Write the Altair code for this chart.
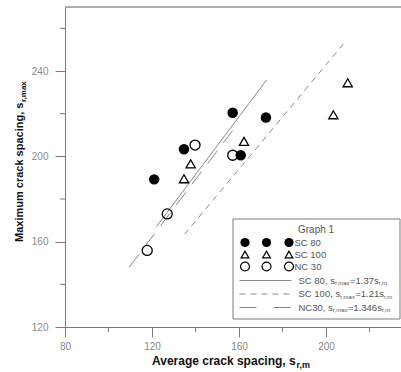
import altair as alt
import pandas as pd

# ---------------- data ----------------
sc80_x = [121.0, 134.7, 157.1, 160.8, 172.4]
sc80_y = [189.2, 203.3, 220.4, 200.5, 218.2]

sc100_x = [134.7, 137.8, 162.3, 203.4, 210.0]
sc100_y = [189.5, 196.5, 207.0, 219.5, 234.5]

nc30_x = [117.8, 127.0, 139.8, 157.1]
nc30_y = [155.9, 173.0, 205.3, 200.5]

# fitted lines (end points)
fit_sc80_x = [122.0, 172.7]
fit_sc80_y = [167.0, 235.8]
fit_sc100_x = [135.0, 209.5]
fit_sc100_y = [163.5, 254.5]
fit_nc30_x = [109.5, 157.0]
fit_nc30_y = [148.0, 212.0]

x_major = [80, 120, 160, 200]
x_minor = [100, 140, 180, 220]
y_major = [120, 160, 200, 240]
y_minor = [140, 180, 220, 260]

# ---------------- layout ----------------
W, H = 336, 320
FONT = "Liberation Sans"
GRAY = "#7a7a7a"

xs = alt.Scale(domain=[80, 234.5], nice=False, zero=False)
ys = alt.Scale(domain=[120, 270], nice=False, zero=False)

xaxis = alt.Axis(values=x_major, tickSize=10, labelPadding=4, domainColor=GRAY,
                 tickColor=GRAY, labelColor="#888888", labelFontSize=10, labelFont=FONT,
                 title=None, grid=False, labelFlush=False)
yaxis = alt.Axis(values=y_major, tickSize=10, labelPadding=7, domainColor=GRAY,
                 tickColor=GRAY, labelColor="#888888", labelFontSize=10, labelFont=FONT,
                 title=None, grid=False, labelFlush=False)


def X(f):
    return alt.X(f, type="quantitative", scale=xs, axis=xaxis)


def Y(f):
    return alt.Y(f, type="quantitative", scale=ys, axis=yaxis)


layers = []

# fitted lines
for fx, fy, dash in [(fit_sc80_x, fit_sc80_y, None),
                     (fit_sc100_x, fit_sc100_y, [6, 5]),
                     (fit_nc30_x, fit_nc30_y, [16, 10])]:
    kw = dict(color="#888888", strokeWidth=1)
    if dash:
        kw["strokeDash"] = dash
    layers.append(alt.Chart(pd.DataFrame({"x": fx, "y": fy})).mark_line(**kw)
                  .encode(x=X("x"), y=Y("y")))

# open circles (NC 30)
layers.append(alt.Chart(pd.DataFrame({"x": nc30_x, "y": nc30_y}))
              .mark_point(shape="circle", filled=False, color="black", size=100,
                          strokeWidth=1.3, opacity=1)
              .encode(x=X("x"), y=Y("y")))
# triangles (SC 100)
layers.append(alt.Chart(pd.DataFrame({"x": sc100_x, "y": sc100_y}))
              .mark_point(shape="triangle-up", filled=False, color="black", size=85,
                          strokeWidth=1.3, opacity=1)
              .encode(x=X("x"), y=Y("y")))
# filled circles (SC 80)
layers.append(alt.Chart(pd.DataFrame({"x": sc80_x, "y": sc80_y}))
              .mark_point(shape="circle", filled=True, color="black", size=110, opacity=1)
              .encode(x=X("x"), y=Y("y")))

# minor ticks
layers.append(alt.Chart(pd.DataFrame({"v": x_minor})).mark_rule(color=GRAY)
              .encode(x=X("v"), y=alt.value(H), y2=alt.value(H + 5)))
layers.append(alt.Chart(pd.DataFrame({"v": y_minor})).mark_rule(color=GRAY)
              .encode(y=Y("v"), x=alt.value(0), x2=alt.value(-5)))

one = pd.DataFrame({"a": [0]})

# top frame line
layers.append(alt.Chart(one).mark_rule(color="#999999", strokeWidth=1.5)
              .encode(x=alt.value(0), x2=alt.value(W), y=alt.value(0)))


def txt(s, x, y, size, bold=False, color="#555555", angle=0, align="left"):
    kw = dict(align=align, baseline="middle", font=FONT, fontSize=size,
              fontWeight="bold" if bold else "normal", color=color)
    if angle:
        kw["angle"] = angle
    return alt.Chart(one).mark_text(**kw).encode(
        x=alt.value(x), y=alt.value(y), text=alt.value(s))


# Arial / Liberation Sans advance widths (per 1000 em)
REG = {"S": 667, "C": 722, "N": 722, " ": 278, ",": 278, ".": 278, "=": 584,
       "s": 500, "r": 333, "m": 833, "a": 556, "x": 500}
BOLD = {"A": 722, "M": 833, "v": 556, "e": 556, "r": 389, "a": 556, "g": 611, " ": 278,
        "c": 556, "k": 556, "s": 556, "p": 611, "i": 278, "n": 611, ",": 278,
        "x": 556, "m": 889, "u": 611}


def width(s, size, table):
    return sum(table.get(ch, 556) for ch in s) * size / 1000.0


# axis titles with subscripts
xt_main = "Average crack spacing, s"
xt_x, xt_y = 87, 354
layers.append(txt(xt_main, xt_x, xt_y, 12, bold=True, color="#111111"))
layers.append(txt("r,m", xt_x + width(xt_main, 12, BOLD) + 0.5, xt_y + 3.5, 9,
                  bold=True, color="#111111"))

yt_main = "Maximum crack spacing, s"
yt_x, yt_y = -45, 235
layers.append(txt(yt_main, yt_x, yt_y, 11, bold=True, color="#111111", angle=270))
layers.append(txt("r,max", yt_x + 3.5, yt_y - width(yt_main, 11, BOLD) - 0.5, 8,
                  bold=True, color="#111111", angle=270))

# ---------------- legend ----------------
LX0, LX1, LY0, LY1 = 168, 335, 212, 312
layers.append(alt.Chart(one).mark_rect(fill="white", stroke=GRAY, strokeWidth=1)
              .encode(x=alt.value(LX0), x2=alt.value(LX1), y=alt.value(LY0), y2=alt.value(LY1)))
layers.append(txt("Graph 1", 233, 223, 10))

sym_x = [180, 201.5, 224]
marker_rows = [("SC 80", "circle", True, 85, 235.5),
               ("SC 100", "triangle-up", False, 60, 247.5),
               ("NC 30", "circle", False, 80, 259.5)]
for label, shape, filled, size, ry in marker_rows:
    for sx in sym_x:
        layers.append(alt.Chart(one).mark_point(shape=shape, filled=filled, color="black",
                                                size=size, strokeWidth=1.2, opacity=1)
                      .encode(x=alt.value(sx), y=alt.value(ry)))
    layers.append(txt(label, 229.5, ry, 9.5))

line_rows = [("SC 80, s", "=1.37s", None, 273.5),
             ("SC 100, s", "=1.21s", [6, 5], 287),
             ("NC30, s", "=1.346s", [17, 17], 300.5)]
for lead, mid, dash, ry in line_rows:
    kw = dict(color="#888888", strokeWidth=1)
    if dash:
        kw["strokeDash"] = dash
    layers.append(alt.Chart(one).mark_rule(**kw)
                  .encode(x=alt.value(174.5), x2=alt.value(226.5), y=alt.value(ry)))
    x0 = 233.5
    layers.append(txt(lead, x0, ry, 9.5))
    x1 = x0 + width(lead, 9.5, REG)
    layers.append(txt("r,max", x1, ry + 2.5, 6))
    x2 = x1 + width("r,max", 6, REG)
    layers.append(txt(mid, x2, ry, 9.5))
    x3 = x2 + width(mid, 9.5, REG)
    layers.append(txt("r,m", x3, ry + 2.5, 6))

chart = alt.layer(*layers).properties(
    width=W, height=H,
    autosize=alt.AutoSizeParams(type="none"),
    padding={"left": 65, "top": 7, "right": 0, "bottom": 45},
).configure_view(stroke=None).configure(background="white")

chart.save("out.html", embed_options={"renderer": "svg", "actions": False})
